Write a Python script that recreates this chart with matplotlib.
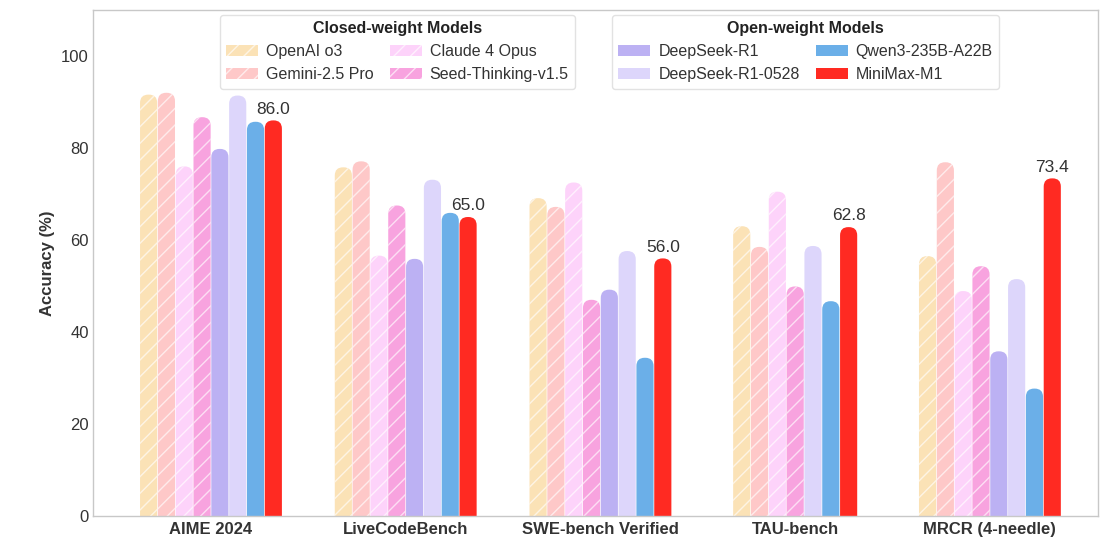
import numpy as np
import matplotlib.pyplot as plt
from matplotlib.patches import FancyBboxPatch, Patch

plt.rcParams['font.family'] = ['Liberation Sans', 'DejaVu Sans']
plt.rcParams['hatch.linewidth'] = 1.0

# data
benchmarks = ['AIME 2024', 'LiveCodeBench', 'SWE-bench Verified', 'TAU-bench', 'MRCR (4-needle)']
closed_models = ['OpenAI o3', 'Gemini-2.5 Pro', 'Claude 4 Opus', 'Seed-Thinking-v1.5']
open_models = ['DeepSeek-R1', 'DeepSeek-R1-0528', 'Qwen3-235B-A22B', 'MiniMax-M1']

openai_o3 = [91.6, 75.8, 69.1, 63.0, 56.5]
gemini_25_pro = [92.0, 77.1, 67.2, 58.5, 76.9]
claude_4_opus = [76.0, 56.6, 72.5, 70.5, 48.9]
seed_thinking = [86.7, 67.5, 47.0, 49.9, 54.3]
deepseek_r1 = [79.8, 55.9, 49.2, None, 35.8]
deepseek_r1_0528 = [91.4, 73.1, 57.6, 58.7, 51.5]
qwen3 = [85.7, 65.9, 34.4, 46.7, 27.7]
minimax_m1 = [86.0, 65.0, 56.0, 62.8, 73.4]

series = [openai_o3, gemini_25_pro, claude_4_opus, seed_thinking,
          deepseek_r1, deepseek_r1_0528, qwen3, minimax_m1]
names = closed_models + open_models
colors = ['#FBE2B6', '#FEC8C8', '#FDD3FA', '#F8A3DF',
          '#BCB1F3', '#DDD6FB', '#6BAFE8', '#FF2A22']
hatches = ['//', '//', '//', '//', None, None, None, None]
hatch_col = (1, 1, 1, 0.65)

fig, ax = plt.subplots(figsize=(11.12, 5.52), dpi=100)
fig.subplots_adjust(left=0.0836, right=0.9874, bottom=0.0652, top=0.9819)
ax.set_xlim(-0.606, 4.555)
ax.set_ylim(0, 110)

# aspect so the rounded tops look round on screen
bb = ax.get_window_extent()
xr = ax.get_xlim()[1] - ax.get_xlim()[0]
yr = ax.get_ylim()[1] - ax.get_ylim()[0]
aspect = (yr / bb.height) / (xr / bb.width)

step = 0.0915
width = 0.088

for g in range(len(benchmarks)):
    present = [i for i in range(len(series)) if series[i][g] is not None]
    n = len(present)
    for k, i in enumerate(present):
        val = series[i][g]
        xpos = g + (k - (n - 1) / 2) * step
        rect = ax.bar(xpos, val, width)[0]
        x0, w, h = rect.get_x(), rect.get_width(), rect.get_height()
        rect.remove()
        r = w * 0.48
        ec = hatch_col if hatches[i] else colors[i]
        p = FancyBboxPatch((x0, -r * aspect), w, h + r * aspect,
                           boxstyle='round,pad=0,rounding_size=%f' % r,
                           mutation_aspect=aspect, facecolor=colors[i],
                           edgecolor=ec, linewidth=0, hatch=hatches[i])
        ax.add_patch(p)
        if names[i] == 'MiniMax-M1':
            ax.text(xpos, h + 0.8, '%.1f' % val, ha='center', va='bottom',
                    fontsize=12.5, color='#333333')

ax.set_xticks(range(len(benchmarks)))
ax.set_xticklabels(benchmarks, fontsize=12, fontweight='bold', color='#333333')
ax.set_yticks([0, 20, 40, 60, 80, 100])
ax.tick_params(axis='y', labelsize=12, labelcolor='#333333', length=0, pad=3)
ax.tick_params(axis='x', length=0, pad=4)
ax.set_ylabel('Accuracy (%)', fontsize=12, fontweight='bold', color='#333333', labelpad=4)
for s in ax.spines.values():
    s.set_color('#c8c8c8')
    s.set_linewidth(1)

closed_handles = [Patch(facecolor=colors[i], edgecolor=hatch_col, linewidth=0,
                        hatch=hatches[i], label=names[i]) for i in range(4)]
open_handles = [Patch(facecolor=colors[i], edgecolor=colors[i], linewidth=0,
                      label=names[i]) for i in range(4, 8)]

leg1 = ax.legend(handles=closed_handles, title='Closed-weight Models', ncol=2,
                 loc='upper center', bbox_to_anchor=(0.303, 0.99), fontsize=11.5,
                 title_fontproperties={'weight': 'bold', 'size': 11.5},
                 columnspacing=1.0, handletextpad=0.5, labelspacing=0.5,
                 borderaxespad=0, framealpha=1, edgecolor='#e2e2e2')
for t in leg1.get_texts():
    t.set_color('#333333')
leg1.get_title().set_color('#222222')
ax.add_artist(leg1)

leg2 = ax.legend(handles=open_handles, title='Open-weight Models', ncol=2,
                 loc='upper center', bbox_to_anchor=(0.709, 0.99), fontsize=11.5,
                 title_fontproperties={'weight': 'bold', 'size': 11.5},
                 columnspacing=1.0, handletextpad=0.5, labelspacing=0.5,
                 borderaxespad=0, framealpha=1, edgecolor='#e2e2e2')
for t in leg2.get_texts():
    t.set_color('#333333')
leg2.get_title().set_color('#222222')

fig.savefig('out.png', dpi=100)
